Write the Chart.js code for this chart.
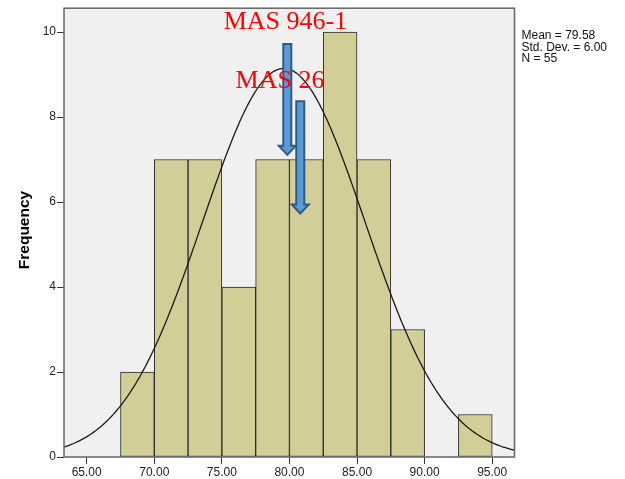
<!DOCTYPE html>
<html>
<head>
<meta charset="utf-8">
<script src="https://cdn.jsdelivr.net/npm/chart.js@4.4.1/dist/chart.umd.min.js"></script>
<style>
html, body { margin: 0; padding: 0; background: #fff; }
#wrap { width: 625px; height: 479px; }
</style>
</head>
<body>
<div id="wrap"><canvas id="histChart" width="625" height="479"></canvas></div>
<script>
// histogram bins (width 2.5) and their counts
const binCenters = [68.75, 71.25, 73.75, 76.25, 78.75, 81.25, 83.75, 86.25, 88.75, 91.25, 93.75]
const counts = [2, 7, 7, 4, 7, 7, 10, 7, 3, 0, 1]
const binWidth = 2.5

const xTicks = [65, 70, 75, 80, 85, 90, 95]
const yTicks = [0, 2, 4, 6, 8, 10]

// summary shown in the side box
const mean = 79.58
const stdDev = 6.00
const n = 55

const xMin = 63.32
const xMax = 96.65
const yMax = 10.56

// fitted normal curve, scaled to counts per bin
let curve = []
for (let i = 0; i <= 200; i++) {
  let x = xMin + (xMax - xMin) * i / 200
  let z = (x - mean) / stdDev
  let y = n * binWidth / (stdDev * Math.sqrt(2 * Math.PI)) * Math.exp(-0.5 * z * z)
  curve.push({x: x, y: y})
}

// arrow markers with their labels (data units)
const markers = [
  {label: "MAS 946-1", labelX: 79.7, labelY: 10.07, x: 79.84, top: 9.72, tip: 7.11},
  {label: "MAS 26", labelX: 79.3, labelY: 8.69, x: 80.8, top: 8.37, tip: 5.73}
]

const sansFont = "'Liberation Sans', Arial, sans-serif"

const plotDecor = {
  id: "plotDecor",
  beforeDraw(chart) {
    const a = chart.chartArea
    const c = chart.ctx
    c.save()
    c.fillStyle = "#f0f0f0"
    c.fillRect(a.left, a.top, a.right - a.left, a.bottom - a.top)
    c.restore()
  },
  afterDraw(chart) {
    const a = chart.chartArea
    const c = chart.ctx
    const xs = chart.scales.x
    const ys = chart.scales.y
    c.save()
    c.strokeStyle = "#666"
    c.lineWidth = 1.5
    c.strokeRect(a.left, a.top, a.right - a.left, a.bottom - a.top)

    // arrows
    markers.forEach(m => {
      let cx = xs.getPixelForValue(m.x)
      let top = ys.getPixelForValue(m.top)
      let tip = ys.getPixelForValue(m.tip)
      let headLen = 9, shaft = 4, head = 8.5
      c.beginPath()
      c.moveTo(cx - shaft, top)
      c.lineTo(cx + shaft, top)
      c.lineTo(cx + shaft, tip - headLen)
      c.lineTo(cx + head, tip - headLen)
      c.lineTo(cx, tip)
      c.lineTo(cx - head, tip - headLen)
      c.lineTo(cx - shaft, tip - headLen)
      c.closePath()
      c.fillStyle = "#5b9bd5"
      c.fill()
      c.strokeStyle = "#2c5b88"
      c.lineWidth = 2
      c.stroke()
    })

    // arrow labels
    c.fillStyle = "#ff0000"
    c.font = "26px 'Liberation Serif', 'Times New Roman', serif"
    c.textAlign = "center"
    c.textBaseline = "alphabetic"
    markers.forEach(m => {
      c.fillText(m.label, xs.getPixelForValue(m.labelX), ys.getPixelForValue(m.labelY))
    })

    // axis title
    c.fillStyle = "#000"
    c.font = "bold 15.5px " + sansFont
    c.translate(25, 230)
    c.rotate(-Math.PI / 2)
    c.textBaseline = "middle"
    c.fillText("Frequency", 0, 0)
    c.setTransform(1, 0, 0, 1, 0, 0)

    // stats box text
    c.font = "12px " + sansFont
    c.textAlign = "left"
    c.textBaseline = "alphabetic"
    c.fillStyle = "#111"
    let stats = ["Mean = " + mean.toFixed(2), "Std. Dev. = " + stdDev.toFixed(2), "N = " + n]
    stats.forEach((s, i) => c.fillText(s, a.right + 7, 39 + i * 11.6))
    c.restore()
  }
}

const ctx = document.getElementById("histChart")

new Chart(ctx, {
  type: "bar",
  data: {
    datasets: [
      {
        type: "line",
        data: curve,
        borderColor: "#1a1a1a",
        borderWidth: 1.3,
        pointRadius: 0,
        tension: 0,
        fill: false,
        order: 0
      },
      {
        type: "bar",
        data: binCenters.map((b, i) => ({x: b, y: counts[i]})),
        backgroundColor: "#d3ce98",
        borderColor: "#2a2a2a",
        borderWidth: ctx => (ctx.raw && ctx.raw.y > 0 ? 1 : 0),
        borderSkipped: false,
        barPercentage: 1,
        categoryPercentage: 1,
        order: 1
      }
    ]
  },
  options: {
    responsive: false,
    animation: false,
    layout: {
      padding: {left: 0, top: 5, right: 110.5, bottom: 0}
    },
    plugins: {
      legend: {display: false},
      tooltip: {enabled: false}
    },
    scales: {
      x: {
        type: "linear",
        min: xMin,
        max: xMax,
        offset: false,
        afterFit: s => { s.height = 22 },
        afterBuildTicks: s => { s.ticks = xTicks.map(v => ({value: v})) },
        grid: {offset: false, drawOnChartArea: false, drawTicks: true, tickLength: 7, color: "#333"},
        border: {display: false},
        ticks: {
          autoSkip: false,
          maxRotation: 0,
          padding: 1,
          color: "#222",
          font: {family: sansFont, size: 12},
          callback: v => v.toFixed(2)
        }
      },
      y: {
        min: 0,
        max: yMax,
        afterFit: s => { s.width = 64 },
        afterBuildTicks: s => { s.ticks = yTicks.map(v => ({value: v})) },
        grid: {drawOnChartArea: false, drawTicks: true, tickLength: 7, color: "#333"},
        border: {display: false},
        ticks: {
          padding: 1,
          color: "#222",
          font: {family: sansFont, size: 12}
        }
      }
    }
  },
  plugins: [plotDecor]
})
</script>
</body>
</html>
